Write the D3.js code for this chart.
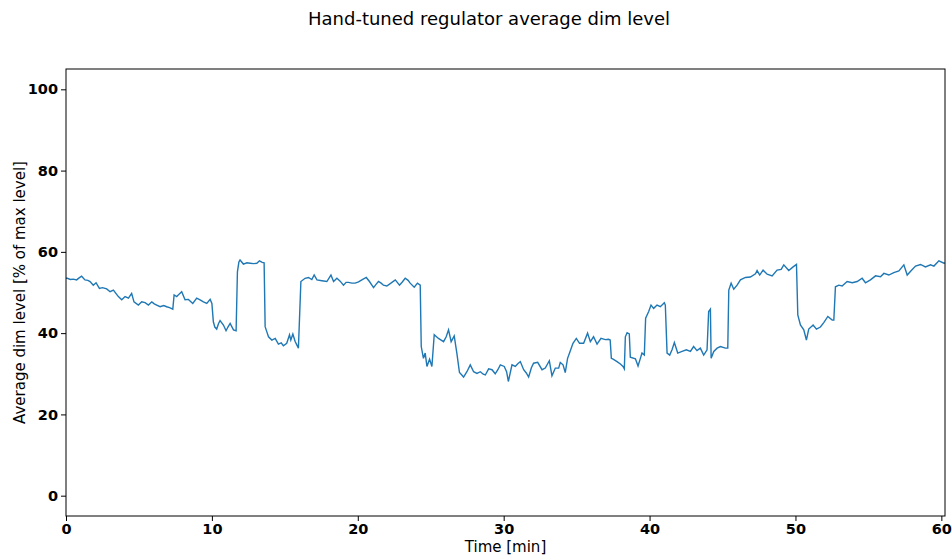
<!DOCTYPE html>
<html lang="en">
<head>
  <meta charset="UTF-8">
  <title>Hand-tuned regulator average dim level</title>
  <style>
      body { margin: 0; background: #fff; }
      svg { font-family: "DejaVu Sans", sans-serif; }
      .line {
          fill: none;
          stroke: #1f77b4;
          stroke-width: 1.4px;
      }
      .axis text {
          font-family: "DejaVu Sans", sans-serif;
          font-size: 14.5px;
          font-weight: bold;
          fill: #000;
      }
      .axis path, .axis line {
          stroke: #000;
          stroke-width: 1px;
      }
  </style>
</head>
<body>
<div id="chart"></div>
<script src="https://d3js.org/d3.v7.min.js"></script>
<script>
  // time in minutes and dim level in % of max level
  const timeMin = [
    0.0, 0.09, 0.3, 0.5, 0.73, 0.9, 1.07, 1.3, 1.5, 1.65, 1.87, 2.06, 2.29, 2.5, 2.79, 3.02, 3.25, 3.42, 3.59, 3.82,
    4.05, 4.28, 4.5, 4.66, 4.96, 5.19, 5.42, 5.65, 5.88, 6.05, 6.22, 6.45, 6.7, 6.9, 7.1, 7.32, 7.41, 7.59, 7.75, 7.93,
    8.16, 8.39, 8.69, 8.96, 9.19, 9.42, 9.65, 9.88, 10.0, 10.1, 10.2, 10.33, 10.45, 10.56, 10.79, 10.97, 11.1, 11.25, 11.48, 11.66,
    11.75, 11.85, 11.93, 12.16, 12.4, 12.62, 12.85, 13.08, 13.26, 13.45, 13.58, 13.65, 13.75, 13.88, 14.11, 14.34, 14.56, 14.75, 14.9, 15.13,
    15.32, 15.41, 15.55, 15.7, 15.82, 15.93, 16.1, 16.39, 16.62, 16.85, 17.01, 17.2, 17.54, 17.88, 18.16, 18.34, 18.57, 18.79, 19.02, 19.2,
    19.36, 19.6, 19.82, 20.05, 20.28, 20.58, 20.8, 21.08, 21.25, 21.42, 21.6, 21.76, 21.99, 22.27, 22.57, 22.86, 23.05, 23.25, 23.45, 23.59,
    23.87, 24.09, 24.28, 24.35, 24.5, 24.62, 24.74, 24.92, 25.08, 25.24, 25.53, 25.88, 26.06, 26.22, 26.4, 26.61, 26.79, 26.97, 27.1, 27.25,
    27.48, 27.71, 27.94, 28.17, 28.4, 28.6, 28.74, 28.97, 29.2, 29.42, 29.6, 29.77, 30.04, 30.2, 30.32, 30.57, 30.8, 30.95, 31.14, 31.37,
    31.55, 31.71, 31.9, 32.05, 32.33, 32.63, 32.85, 33.13, 33.31, 33.54, 33.77, 33.88, 34.07, 34.22, 34.38, 34.52, 34.75, 34.98, 35.2, 35.48,
    35.75, 35.94, 36.16, 36.4, 36.67, 36.97, 37.19, 37.3, 37.38, 37.5, 37.77, 38.0, 38.18, 38.27, 38.34, 38.46, 38.61, 38.68, 39.03, 39.21,
    39.37, 39.48, 39.64, 39.73, 39.94, 40.1, 40.28, 40.51, 40.74, 41.01, 41.08, 41.2, 41.38, 41.54, 41.7, 41.93, 42.23, 42.52, 42.8, 43.02,
    43.25, 43.48, 43.71, 43.94, 44.05, 44.17, 44.22, 44.4, 44.63, 44.86, 45.2, 45.36, 45.43, 45.59, 45.77, 46.0, 46.23, 46.57, 46.91, 47.26,
    47.37, 47.55, 47.78, 48.06, 48.4, 48.74, 49.02, 49.2, 49.54, 49.84, 50.07, 50.16, 50.34, 50.57, 50.75, 50.91, 51.21, 51.44, 51.71, 51.94,
    52.22, 52.52, 52.63, 52.74, 52.97, 53.2, 53.54, 53.89, 54.23, 54.57, 54.8, 55.14, 55.49, 55.83, 56.06, 56.4, 56.74, 57.09, 57.43, 57.66,
    57.94, 58.23, 58.57, 58.91, 59.26, 59.49, 59.83, 60.18, 60.25
  ];
  const dimLevel = [
    53.5, 53.5, 53.2, 53.3, 53.1, 53.6, 54.0, 53.1, 53.0, 52.7, 51.8, 52.4, 51.0, 51.2, 50.9, 50.2, 50.6, 49.8, 49.0, 48.2,
    49.0, 48.6, 49.8, 47.7, 46.9, 47.7, 47.5, 46.9, 47.7, 47.2, 46.9, 46.5, 46.8, 46.5, 46.3, 45.9, 49.4, 49.0, 49.6, 50.2,
    48.2, 48.3, 47.3, 48.6, 48.2, 47.7, 47.3, 48.3, 47.3, 42.8, 41.5, 41.0, 42.3, 43.1, 42.0, 40.6, 41.5, 42.4, 40.8, 40.6,
    55.1, 57.5, 58.0, 57.0, 57.3, 57.2, 57.1, 57.2, 57.8, 57.4, 57.3, 41.6, 40.5, 39.1, 38.3, 38.7, 37.3, 37.6, 36.9, 37.5,
    39.6, 38.3, 39.8, 38.0, 37.1, 36.3, 52.7, 53.5, 53.7, 53.2, 54.3, 53.1, 52.9, 52.7, 54.3, 52.7, 53.5, 52.8, 51.8, 52.5,
    52.5, 52.3, 52.3, 52.6, 53.1, 53.7, 52.7, 51.2, 52.0, 52.7, 52.3, 51.8, 51.6, 52.3, 53.1, 51.8, 52.6, 53.5, 53.0, 52.3,
    51.3, 52.3, 51.8, 36.7, 33.8, 35.1, 31.8, 33.6, 31.8, 39.6, 38.7, 37.9, 39.1, 40.8, 37.9, 39.3, 35.1, 30.3, 29.8, 29.2,
    30.5, 32.2, 30.5, 30.1, 30.5, 29.9, 29.7, 31.2, 31.0, 30.0, 31.0, 32.2, 31.8, 30.5, 28.1, 32.2, 31.8, 32.4, 33.0, 31.0,
    30.2, 29.2, 31.5, 32.6, 32.8, 31.0, 31.4, 33.2, 29.5, 31.4, 31.4, 32.8, 32.2, 30.3, 33.8, 35.2, 37.5, 38.7, 37.5, 37.5,
    40.0, 37.9, 39.1, 37.3, 38.7, 38.4, 38.5, 38.3, 33.8, 33.6, 33.0, 32.4, 31.8, 31.2, 39.1, 40.1, 39.8, 34.1, 33.7, 31.9,
    33.8, 35.1, 34.6, 43.7, 45.3, 46.9, 46.1, 46.9, 46.5, 47.5, 46.9, 35.1, 34.6, 35.9, 37.7, 35.1, 35.5, 35.9, 35.5, 36.7,
    35.7, 36.3, 34.6, 35.9, 45.3, 45.9, 33.8, 35.5, 36.3, 36.7, 36.3, 36.3, 50.6, 52.3, 50.8, 51.8, 53.1, 53.7, 53.8, 54.6,
    55.4, 54.3, 55.5, 54.5, 54.1, 55.5, 55.7, 56.8, 55.4, 56.3, 56.9, 44.5, 42.0, 40.8, 38.3, 41.0, 42.0, 41.0, 41.5, 42.6,
    44.1, 43.2, 43.2, 51.4, 51.8, 51.6, 52.7, 52.4, 52.7, 53.5, 52.4, 53.1, 54.1, 53.9, 54.7, 54.3, 54.9, 55.3, 56.8, 54.3,
    55.4, 56.5, 56.9, 56.3, 56.8, 56.5, 57.8, 57.2, 57.3
  ];
  const xTicks = [0, 10, 20, 30, 40, 50, 60];
  const yTicks = [0, 20, 40, 60, 80, 100];

  const margin = {top: 69, right: 7, bottom: 39, left: 66},
    width = 952 - margin.left - margin.right,
    height = 555 - margin.top - margin.bottom;

  const root = d3.select("#chart").append("svg")
    .attr("width", 952)
    .attr("height", 555);

  const svg = root.append("g")
    .attr("transform", `translate(${margin.left},${margin.top})`);

  const x = d3.scaleLinear()
    .domain([0, 60.25])
    .range([0, width]);

  const y = d3.scaleLinear()
    .domain([-5, 105])
    .range([height, 0]);

  const line = d3.line()
    .x((d, i) => x(timeMin[i]))
    .y(d => y(d));

  svg.append("path")
    .datum(dimLevel)
    .attr("class", "line")
    .attr("d", line);

  // frame
  svg.append("rect")
    .attr("width", width)
    .attr("height", height)
    .attr("fill", "none")
    .attr("stroke", "#000")
    .attr("stroke-width", 1);

  svg.append("g")
    .attr("class", "axis")
    .attr("transform", `translate(0,${height})`)
    .call(d3.axisBottom(x).tickValues(xTicks).tickSize(5).tickPadding(3).tickFormat(d3.format("d")))
    .call(g => g.select(".domain").remove());

  svg.append("g")
    .attr("class", "axis")
    .call(d3.axisLeft(y).tickValues(yTicks).tickSize(5).tickPadding(3).tickFormat(d3.format("d")))
    .call(g => g.select(".domain").remove());

  root.append("text")
    .attr("x", 489)
    .attr("y", 25)
    .attr("text-anchor", "middle")
    .style("font-size", "18px")
    .text("Hand-tuned regulator average dim level");

  root.append("text")
    .attr("transform", `translate(25,${margin.top + height / 2}) rotate(-90)`)
    .attr("text-anchor", "middle")
    .style("font-size", "15px")
    .text("Average dim level [% of max level]");

  root.append("text")
    .attr("x", margin.left + width / 2)
    .attr("y", 552)
    .attr("text-anchor", "middle")
    .style("font-size", "15px")
    .text("Time [min]");
</script>
</body>
</html>
